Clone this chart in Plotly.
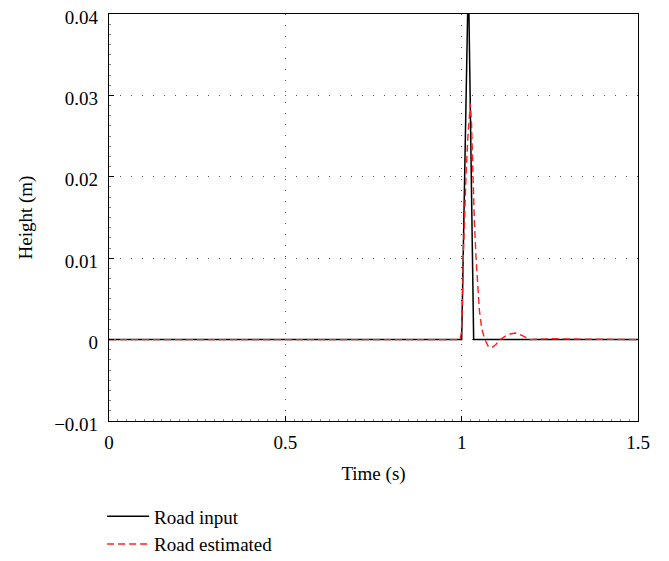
import plotly.graph_objects as go

# Road input (m) vs time (s)
t_input = [0.0, 1.0, 1.019, 1.034, 1.5]
h_input = [0.0, 0.0, 0.045, 0.0, 0.0]

# Road estimated (m) vs time (s)
t_est = [0.0, 0.995, 0.999, 1.002, 1.0046, 1.008, 1.0123, 1.017, 1.0216, 1.0245, 1.028,
         1.0313, 1.036, 1.0406, 1.045, 1.05, 1.057, 1.066, 1.075, 1.085, 1.097, 1.109,
         1.13, 1.151, 1.172, 1.194, 1.25, 1.5]
h_est = [0.0, 0.0, 0.0008, 0.004, 0.0102, 0.015, 0.02, 0.0245, 0.027, 0.029, 0.0265,
         0.02, 0.0145, 0.0102, 0.0066, 0.0037, 0.0013, 0.0, -0.0008, -0.001, -0.0006, 0.0,
         0.0006, 0.0008, 0.0005, 0.0, 0.0001, 0.0]

x_ticks = [0, 0.5, 1, 1.5]
x_labels = ["0", "0.5", "1", "1.5"]
y_ticks = [-0.01, 0, 0.01, 0.02, 0.03, 0.04]
y_labels = ["\u22120.01", "0", "0.01", "0.02", "0.03", "0.04"]

FONT = "Liberation Serif"
FS = 19

fig = go.Figure()
fig.add_trace(go.Scatter(x=t_input, y=h_input, mode="lines", name="Road input",
                         line=dict(color="black", width=1.5)))
fig.add_trace(go.Scatter(x=t_est, y=h_est, mode="lines", name="Road estimated",
                         line=dict(color="#ff1f1f", width=1.4, dash="7px,4px")))

axis_common = dict(
    showline=True, linecolor="black", linewidth=1.2, mirror=True,
    showgrid=True, gridcolor="#555555", griddash="1px,10px", gridwidth=1,
    ticks="inside", ticklen=5, tickcolor="black", zeroline=False,
    ticklabeloverflow="allow",
    tickfont=dict(family=FONT, size=FS, color="black"),
)

fig.update_xaxes(range=[0, 1.5], tickvals=x_ticks, ticktext=x_labels,
                 ticklabelstandoff=4,
                 title=dict(text="Time (s)", font=dict(family=FONT, size=FS, color="black"), standoff=14),
                 minor=dict(ticks="inside", ticklen=2, tickcolor="#888888", dtick=0.025, showgrid=False),
                 **axis_common)
fig.update_yaxes(range=[-0.01, 0.04], tickvals=y_ticks, ticktext=y_labels,
                 ticklabelstandoff=6, ticklabelshift=3,
                 title=dict(text="Height (m)", font=dict(family=FONT, size=FS, color="black"), standoff=16),
                 minor=dict(ticks="inside", ticklen=2, tickcolor="#888888", dtick=0.00125, showgrid=False),
                 **axis_common)

# The page body adds an 8px offset; margins compensate so the plot area sits at
# x 109..638, y 14..421 in the browser window.
fig.update_layout(
    width=669, height=561,
    margin=dict(l=101, r=39, t=6, b=148, autoexpand=False),
    plot_bgcolor="white", paper_bgcolor="white",
    font=dict(family=FONT, size=FS, color="black"),
    showlegend=True,
    legend=dict(x=-0.013, y=-0.188, xanchor="left", yanchor="top", orientation="v",
                font=dict(family=FONT, size=FS, color="black"),
                bgcolor="rgba(0,0,0,0)", tracegroupgap=0, itemwidth=42),
)

fig.write_html("out.html")
